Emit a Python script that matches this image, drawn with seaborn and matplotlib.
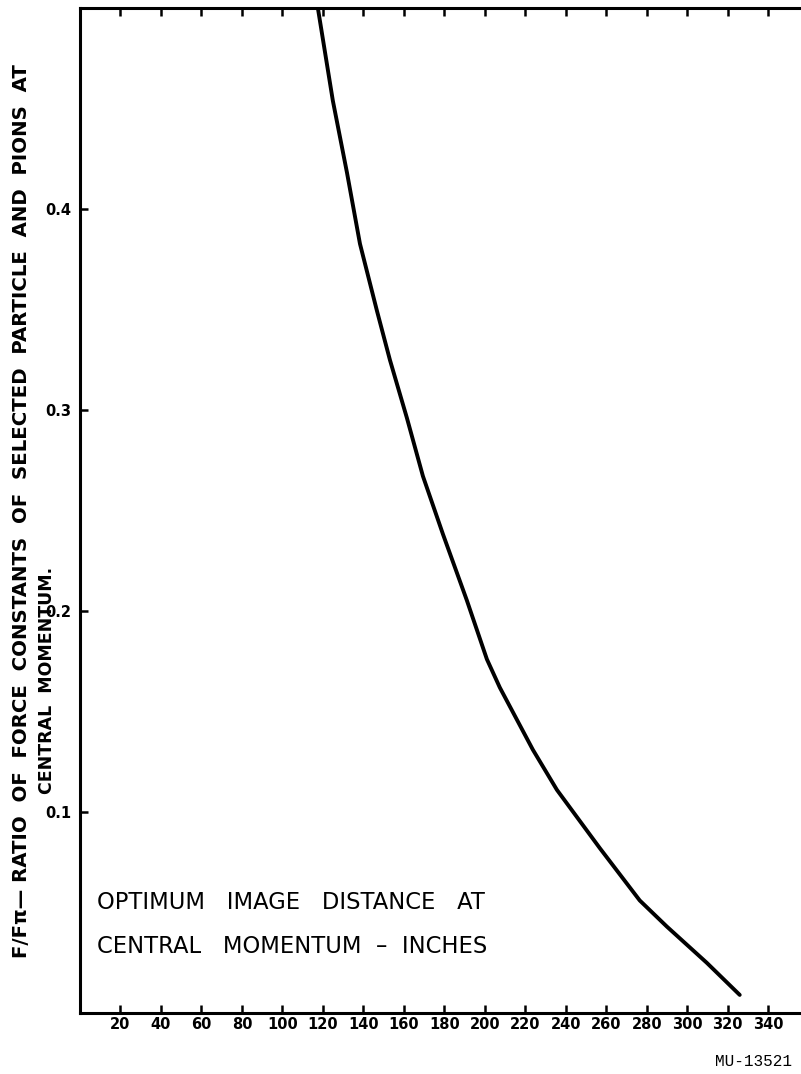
import numpy as np
import pandas as pd
import matplotlib
matplotlib.use('Agg')
import matplotlib.pyplot as plt
import seaborn as sns

# curve: image distance (inches) vs F/F_pi
image_distance = [117.5, 124.9, 131.9, 138.3, 146.7, 153.1, 161.5, 169.4, 179.3,
                  191.1, 201.0, 207.4, 223.7, 235.6, 256.8, 276.5, 289.9, 309.6, 325.9]
force_ratio = [0.500, 0.4539, 0.418, 0.3827, 0.3493, 0.3249, 0.296, 0.2671, 0.2382,
               0.2053, 0.176, 0.1619, 0.131, 0.111, 0.082, 0.056, 0.043, 0.025, 0.009]

x_ticks = list(range(20, 360, 20))
y_ticks = [0.1, 0.2, 0.3, 0.4]
y_tick_labels = ['0.1', '0.2', '0.3', '0.4']

sns.set_style('white')
plt.rcParams['font.family'] = ['DejaVu Sans']
plt.rcParams['text.color'] = 'black'
plt.rcParams['xtick.color'] = 'black'
plt.rcParams['ytick.color'] = 'black'

df = pd.DataFrame({'dist': image_distance, 'ratio': force_ratio})

fig = plt.figure(figsize=(8.01, 10.74), dpi=100)
# axes run past the right edge of the page, like the cropped scan
ax = fig.add_axes([80 / 801, 61 / 1074, 749 / 801, 1005 / 1074])

sns.lineplot(data=df, x='dist', y='ratio', color='black', linewidth=2.8, ax=ax)

ax.set_xlim(0, 370)
ax.set_ylim(0, 0.5)
ax.set_xticks(x_ticks)
ax.set_xticklabels([str(t) for t in x_ticks], fontsize=10.5, fontweight='bold')
ax.set_yticks(y_ticks)
ax.set_yticklabels(y_tick_labels, fontsize=10.5, fontweight='bold')
ax.tick_params(axis='both', direction='in', length=6, width=1.8, color='black',
               top=True, bottom=True, left=True, right=False)
ax.tick_params(axis='x', pad=3)
ax.tick_params(axis='y', pad=6)
for s in ax.spines.values():
    s.set_color('black')
    s.set_linewidth(2.2)
ax.set_xlabel('')
ax.set_ylabel('')

# x-axis caption sits inside the plot
ax.text(8.5, 0.0548, 'OPTIMUM   IMAGE   DISTANCE   AT', fontsize=16.3,
        ha='left', va='center')
ax.text(8.5, 0.0329, 'CENTRAL   MOMENTUM  –  INCHES', fontsize=16.3,
        ha='left', va='center')

# y-axis caption, two pieces as on the original
fig.text(22 / 801, 1 - 511 / 1074,
         'F/Fπ— RATIO  OF  FORCE  CONSTANTS  OF  SELECTED  PARTICLE  AND  PIONS  AT',
         rotation=90, ha='center', va='center', fontsize=14.2, fontweight='bold')
fig.text(47 / 801, 1 - 680 / 1074, 'CENTRAL  MOMENTUM.', rotation=90,
         ha='center', va='center', fontsize=12.5, fontweight='bold')

fig.text(715 / 801, 1 - 1062 / 1074, 'MU-13521', fontsize=11.5,
         family='Liberation Mono', ha='left', va='center')

fig.savefig('out.png', dpi=100)
